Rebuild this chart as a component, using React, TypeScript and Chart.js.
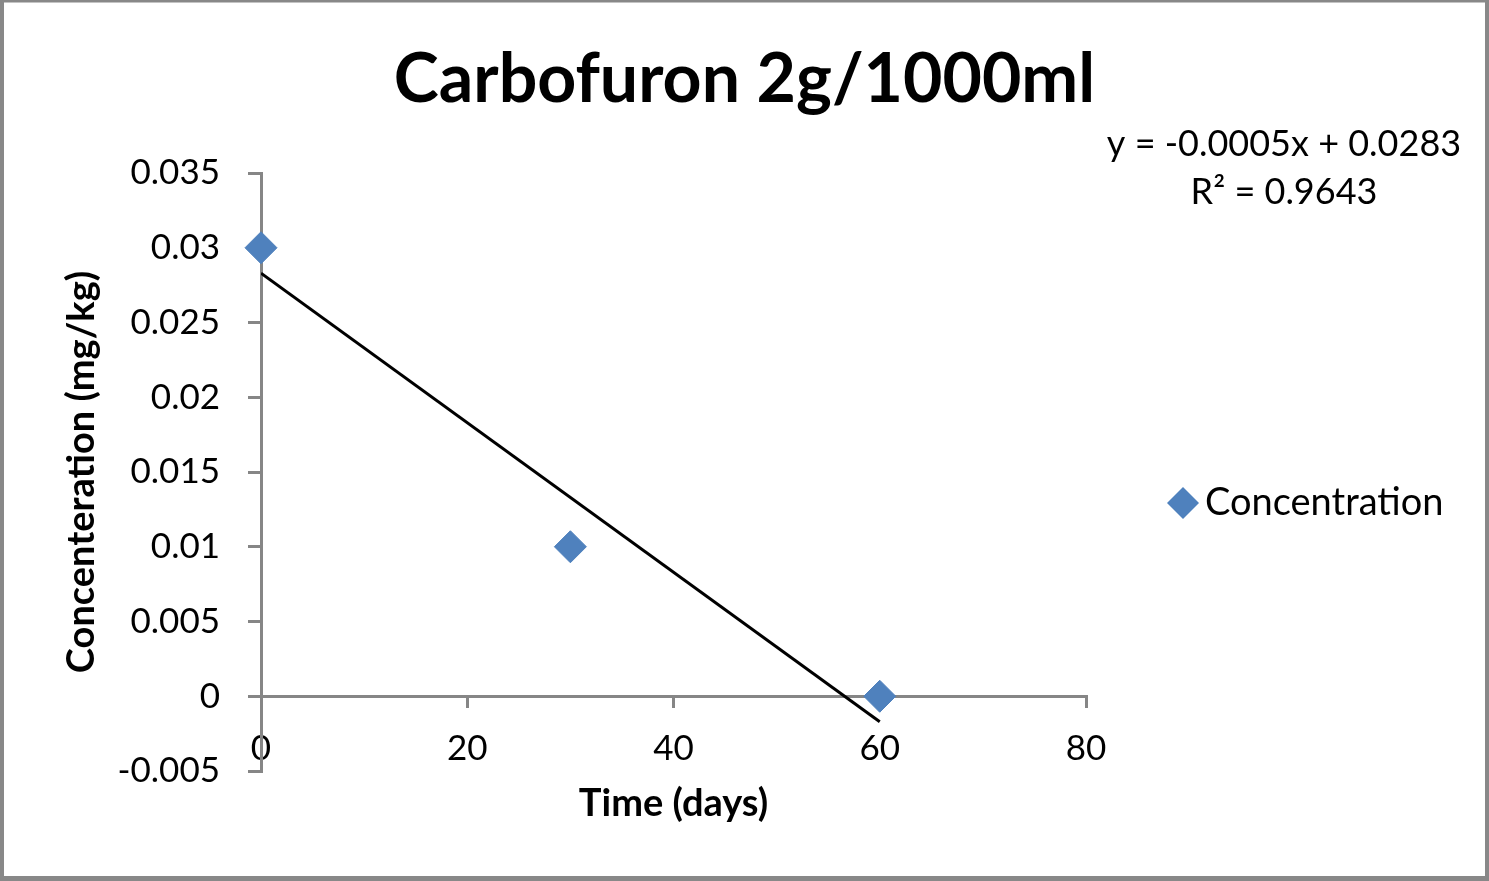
import React, { useEffect, useRef } from 'react';
import { Chart, registerables } from 'chart.js';

Chart.register(...registerables);

const chartTitle = 'Carbofuron 2g/1000ml';
const xAxisTitle = 'Time (days)';
const yAxisTitle = 'Concenteration (mg/kg)';
const seriesName = 'Concentration';

const timeDays = [0, 30, 60];
const concentration = [0.03, 0.01, 0];

const trendRange = [0, 60];
const trendSlope = -0.0005;
const trendIntercept = 0.0283;
const trendRSquared = 0.9643;

const xTickValues = [0, 20, 40, 60, 80];
const yTickLabels = ['-0.005', '0', '0.005', '0.01', '0.015', '0.02', '0.025', '0.03', '0.035'];

const FONT = 'Lato';
const MARKER = '#4F81BD';
const AXIS = '#868686';
const TEXT = '#000000';

const decorPlugin = {
  id: 'decor',
  beforeDraw(chart: any) {
    const { ctx, width, height } = chart;
    ctx.save();
    ctx.fillStyle = '#ffffff';
    ctx.fillRect(0, 0, width, height);
    ctx.restore();
  },
  afterDraw(chart: any) {
    const { ctx, width, height, chartArea } = chart;
    ctx.save();
    // outer border
    ctx.fillStyle = '#888888';
    ctx.fillRect(0, 0, 4, height);
    ctx.fillRect(0, 0, width, 2.5);
    ctx.fillRect(width - 4, 0, 4, height);
    ctx.fillRect(0, height - 5, width, 5);

    // trendline equation
    ctx.fillStyle = TEXT;
    ctx.font = `36px ${FONT}`;
    ctx.textAlign = 'center';
    ctx.textBaseline = 'middle';
    const sign = trendIntercept >= 0 ? '+' : '-';
    const eq = `y = ${trendSlope}x ${sign} ${Math.abs(trendIntercept)}`;
    const r2 = `R² = ${trendRSquared}`;
    const ex = chartArea.right + 198;
    ctx.fillText(eq, ex, chartArea.top - 29);
    ctx.fillText(r2, ex, chartArea.top + 19);

    // legend
    const lx = chartArea.right + 97;
    const ly = 503;
    const r = 16;
    ctx.fillStyle = MARKER;
    ctx.beginPath();
    ctx.moveTo(lx, ly - r);
    ctx.lineTo(lx + r, ly);
    ctx.lineTo(lx, ly + r);
    ctx.lineTo(lx - r, ly);
    ctx.closePath();
    ctx.fill();
    ctx.fillStyle = TEXT;
    ctx.textAlign = 'left';
    ctx.font = `38px ${FONT}`;
    ctx.fillText(seriesName, lx + 22, ly);
    ctx.restore();
  },
};

export default function App() {
  const ref = useRef<HTMLCanvasElement>(null);

  useEffect(() => {
    const canvas = ref.current;
    if (!canvas) return;
    const points = timeDays.map((x, i) => ({ x, y: concentration[i] }));
    const trend = trendRange.map((x) => ({ x, y: trendSlope * x + trendIntercept }));

    const chart = new Chart(canvas, {
      type: 'scatter',
      data: {
        datasets: [
          {
            label: seriesName,
            data: points,
            pointStyle: 'rectRot',
            pointRadius: 16,
            pointHoverRadius: 16,
            backgroundColor: MARKER,
            borderColor: MARKER,
            borderWidth: 1,
            showLine: false,
            clip: false,
            order: 0,
          },
          {
            label: 'Linear (Concentration)',
            data: trend,
            showLine: true,
            borderColor: '#000000',
            borderWidth: 3,
            pointRadius: 0,
            pointHoverRadius: 0,
            order: 1,
          },
        ],
      },
      options: {
        responsive: false,
        maintainAspectRatio: false,
        animation: false,
        devicePixelRatio: 1,
        layout: { padding: { top: 0, left: 0, right: 0, bottom: 110 } },
        plugins: {
          legend: { display: false },
          tooltip: { enabled: false },
          title: {
            display: true,
            text: chartTitle,
            color: TEXT,
            font: { family: FONT, size: 68, weight: 'bold' },
            padding: { top: 39.5, bottom: 51.9 },
          },
        },
        scales: {
          x: {
            type: 'linear',
            min: 0,
            max: 80,
            position: { y: 0 } as any,
            afterBuildTicks: (s: any) => {
              s.ticks = xTickValues.map((v) => ({ value: v }));
            },
            ticks: {
              color: TEXT,
              font: { family: FONT, size: 35 },
              padding: 21,
              maxRotation: 0,
              callback: (v: any) => String(v),
            },
            grid: {
              display: true,
              drawOnChartArea: false,
              drawTicks: true,
              tickLength: 10,
              color: AXIS,
              lineWidth: 3,
            },
            border: { display: true, color: AXIS, width: 3 },
            title: {
              display: true,
              text: xAxisTitle,
              color: TEXT,
              font: { family: FONT, size: 38, weight: 'bold' },
              padding: { top: -9.1, bottom: 0 },
            },
          },
          y: {
            type: 'linear',
            position: 'left',
            min: -0.005,
            max: 0.035,
            afterBuildTicks: (s: any) => {
              s.ticks = yTickLabels.map((l) => ({ value: parseFloat(l) }));
            },
            afterFit: (s: any) => {
              s.width = 261;
            },
            ticks: {
              color: TEXT,
              font: { family: FONT, size: 35 },
              padding: 28,
              callback: (_v: any, i: number) => yTickLabels[i],
            },
            grid: {
              display: true,
              drawOnChartArea: false,
              drawTicks: true,
              tickLength: 13,
              color: AXIS,
              lineWidth: 3,
            },
            border: { display: true, color: AXIS, width: 3 },
            title: {
              display: true,
              text: yAxisTitle,
              color: TEXT,
              font: { family: FONT, size: 38, weight: 'bold' },
              padding: { top: 59.2, bottom: 0 },
            },
          },
          rightSpace: {
            type: 'linear',
            position: 'right',
            display: true,
            afterFit: (s: any) => {
              s.width = 403;
            },
            ticks: { display: false },
            grid: { display: false, drawTicks: false },
            border: { display: false },
          },
        },
      },
      plugins: [decorPlugin],
    } as any);

    return () => chart.destroy();
  }, []);

  return (
    <div style={{ position: 'absolute', left: 0, top: 0, width: 1489, height: 881 }}>
      <canvas ref={ref} width={1489} height={881} style={{ display: 'block', width: 1489, height: 881 }} />
    </div>
  );
}
